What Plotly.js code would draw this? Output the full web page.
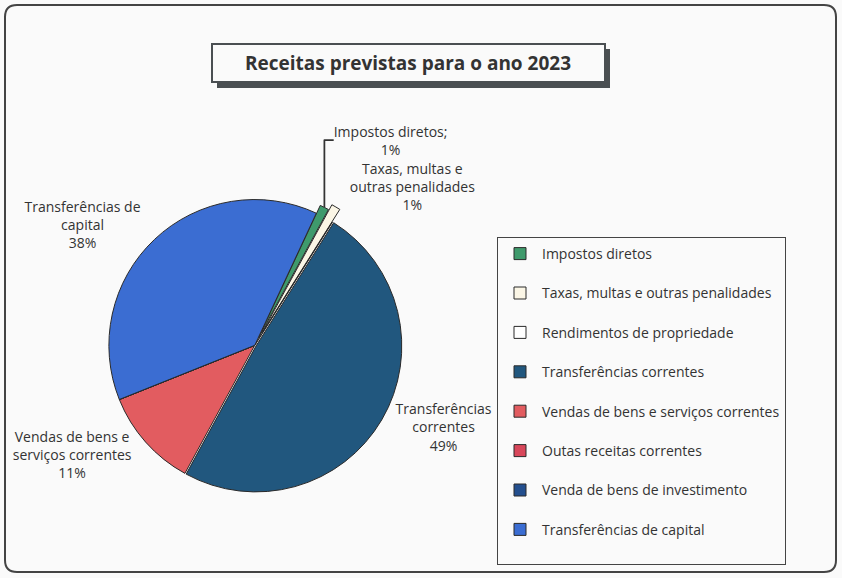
<!DOCTYPE html>
<html>
<head>
<meta charset="utf-8">
<script src="https://cdn.plot.ly/plotly-3.0.1.min.js"></script>
<style>html,body{margin:0;padding:0;background:#fafafa;}#chart{width:842px;height:578px;}</style>
</head>
<body>
<div id="chart"></div>
<script>
// Data
const categories = [
  "Impostos diretos",
  "Taxas, multas e outras penalidades",
  "Rendimentos de propriedade",
  "Transferências correntes",
  "Vendas de bens e serviços correntes",
  "Outas receitas correntes",
  "Venda de bens de investimento",
  "Transferências de capital"
];
const values = [1, 1, 0, 49, 11, 0, 0, 38];
const sliceLabels = [
  "Impostos diretos;",
  "Taxas, multas e<br>outras penalidades",
  "Rendimentos de<br>propriedade",
  "Transferências<br>correntes",
  "Vendas de bens e<br>serviços correntes",
  "Outas receitas<br>correntes",
  "Venda de bens de<br>investimento",
  "Transferências de<br>capital"
];
const colors = ["#3f9a6c", "#fbf6e6", "#ffffff", "#21577e", "#e25c60", "#d8475a", "#234f8e", "#3b6dd2"];

const FONT = "'Open Sans', Lato, sans-serif";

const trace = {
  type: "pie",
  labels: categories.map(c => c + "<br> "),
  values: values,
  text: sliceLabels,
  texttemplate: values.map(v => v > 0 ? "%{text}<br>%{percent:.0%}" : ""),
  textposition: "outside",
  textfont: {family: FONT, size: 14, color: "#333"},
  sort: false,
  direction: "clockwise",
  rotation: 25,
  pull: [0.06, 0.1, 0, 0.01, 0, 0, 0, 0],
  marker: {colors: colors, line: {color: "#2a2a2a", width: 1}},
  domain: {x: [0.03, 0.575], y: [0.125, 0.68]},
  hoverinfo: "label+percent",
  automargin: false
};

const W = 842, H = 578;
const px = v => v / W, py = v => 1 - v / H;
const r = 12;
const x0 = 5, y0 = 5, x1 = 836, y1 = 572;
const borderPath =
  `M ${px(x0 + r)} ${py(y0)} L ${px(x1 - r)} ${py(y0)} Q ${px(x1)} ${py(y0)} ${px(x1)} ${py(y0 + r)} ` +
  `L ${px(x1)} ${py(y1 - r)} Q ${px(x1)} ${py(y1)} ${px(x1 - r)} ${py(y1)} ` +
  `L ${px(x0 + r)} ${py(y1)} Q ${px(x0)} ${py(y1)} ${px(x0)} ${py(y1 - r)} ` +
  `L ${px(x0)} ${py(y0 + r)} Q ${px(x0)} ${py(y0)} ${px(x0 + r)} ${py(y0)} Z`;

const layout = {
  width: W, height: H,
  margin: {l: 0, r: 0, t: 0, b: 0},
  paper_bgcolor: "#fafafa",
  font: {family: FONT, color: "#333"},
  title: {
    text: "<b>Receitas previstas para o ano 2023</b>",
    font: {family: FONT, size: 19, color: "#333"},
    x: 408 / W, xanchor: "center", xref: "paper",
    y: 1 - 63 / H, yanchor: "middle", yref: "paper"
  },
  showlegend: true,
  legend: {
    x: 497 / W, xanchor: "left",
    y: 1 - 237 / H, yanchor: "top",
    bgcolor: "#fafafa", bordercolor: "#444", borderwidth: 1,
    font: {family: FONT, size: 14, color: "#333"},
    valign: "top",
    itemwidth: 34,
    traceorder: "normal"
  },
  shapes: [
    {type: "path", xref: "paper", yref: "paper", path: borderPath, line: {color: "#444", width: 2}, layer: "below"},
    {type: "rect", xref: "paper", yref: "paper", x0: px(217), x1: px(610), y0: py(88), y1: py(49), fillcolor: "#4a4f52", line: {width: 0}, layer: "below"},
    {type: "rect", xref: "paper", yref: "paper", x0: px(212), x1: px(605), y0: py(82), y1: py(44), fillcolor: "#fafafa", line: {color: "#4a4f52", width: 2}, layer: "below"}
  ]
};

Plotly.newPlot("chart", [trace], layout, {displayModeBar: false, staticPlot: true});
</script>
</body>
</html>
